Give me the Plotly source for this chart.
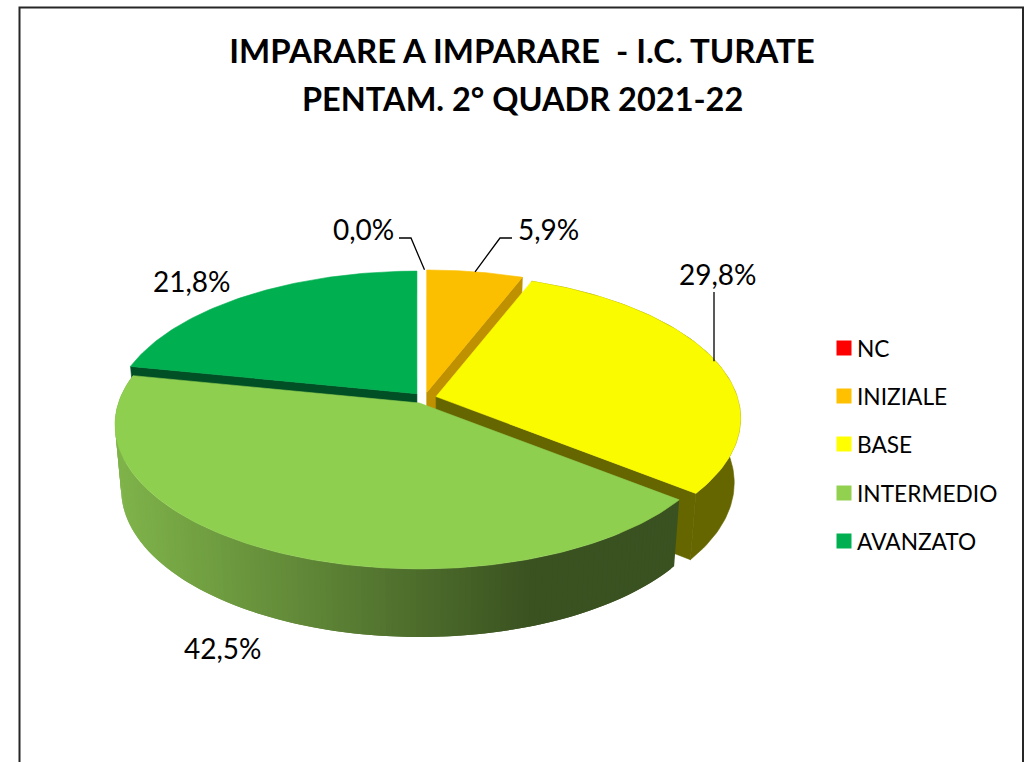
import math
import plotly.graph_objects as go

categories = ["NC", "INIZIALE", "BASE", "INTERMEDIO", "AVANZATO"]
values = [0.0, 5.9, 29.8, 42.5, 21.8]
labels = ["0,0%", "5,9%", "29,8%", "42,5%", "21,8%"]
top_colors = ["#FF0000", "#FBBF00", "#FBFB00", "#8FCF50", "#00AF50"]
legend_colors = ["#FF0000", "#FFC000", "#FFFF00", "#92D050", "#00B050"]
wall_colors = ["#990000", "#BF9000", "#666600", "#3B5320", "#004F25"]
title_line1 = "IMPARARE A IMPARARE  - I.C. TURATE"
title_line2 = "PENTAM. 2° QUADR 2021-22"

FONT = "Lato"
W, H = 1026, 762
CX, CY = 424.5, 398.0      # unexploded centre of the pie's top face
RX, RY = 301.0, 141.0      # disc radii on screen
PERSP = 0.15               # perspective strength
EXPLODE = 12.0             # slice explosion along its mid angle
SHRINK = 0.98

total = sum(values)
starts, t = [], 0.0
for v in values:
    starts.append(t)
    t += v
ang = lambda pct: pct / total * 2 * math.pi


def apex(i):
    mid = ang(starts[i] + values[i] / 2)
    return CX + EXPLODE * math.sin(mid), CY - EXPLODE * 0.46 * math.cos(mid)


def rim(i, a):
    ax, ay = apex(i)
    f = 1 / (1 + PERSP * math.cos(a))
    return ax + RX * math.sin(a) * f, ay - RY * math.cos(a) * f


def low(p):
    return CX + SHRINK * (p[0] - CX), p[1] + 64 + 0.024 * (p[1] - CY)


def arc(i, a0, a1, n=90):
    return [rim(i, a0 + (a1 - a0) * k / n) for k in range(n + 1)]


def poly(fig, pts, color, lw=0.6):
    fig.add_trace(go.Scatter(
        x=[p[0] for p in pts] + [pts[0][0]], y=[p[1] for p in pts] + [pts[0][1]],
        mode="lines", fill="toself", fillcolor=color,
        line=dict(color=color, width=lw), hoverinfo="skip", showlegend=False))


def grad(x):
    u = min(max((x - 118) / (535 - 118), 0), 1)
    c0, c1 = (127, 179, 74), (58, 81, 32)
    return "rgb(%d,%d,%d)" % tuple(round(p + (q - p) * u) for p, q in zip(c0, c1))


fig = go.Figure()


def radial_wall(i, a, color):
    ap = apex(i)
    r = rim(i, a)
    poly(fig, [ap, r, low(r), low(ap)], color)


# back to front: AVANZATO, INIZIALE, BASE, INTERMEDIO
ia, io, iy, ig = 4, 1, 2, 3
radial_wall(ia, ang(starts[ia]), wall_colors[ia])
poly(fig, [apex(ia)] + arc(ia, ang(starts[ia]), ang(total)), top_colors[ia])

radial_wall(io, ang(starts[io] + values[io]), wall_colors[io])
poly(fig, [apex(io)] + arc(io, ang(starts[io]), ang(starts[io] + values[io])), top_colors[io])

y0, y1 = ang(starts[iy]), ang(starts[iy] + values[iy])
top = arc(iy, y0, y1)
poly(fig, top + [low(p) for p in reversed(top)], wall_colors[iy])
radial_wall(iy, y1, wall_colors[iy])
poly(fig, [apex(iy)] + top, top_colors[iy])

g0, g1 = ang(starts[ig]), ang(starts[ig] + values[ig])
steps = 153
for k in range(steps):
    a = g0 + (g1 - g0) * k / steps
    b = g0 + (g1 - g0) * min(k + 2, steps) / steps   # overlaps the next strip, so no seams
    p, q = rim(ig, a), rim(ig, g0 + (g1 - g0) * (k + 1) / steps)
    mid_pts = arc(ig, a, b, 4)
    poly(fig, mid_pts + [low(m) for m in reversed(mid_pts)], grad((p[0] + q[0]) / 2), lw=0)
poly(fig, [apex(ig)] + arc(ig, g0, g1, 180), top_colors[ig])

# leader lines
z_end = rim(0, ang(starts[0]))
o_end = rim(1, ang(starts[1] + values[1] / 2))
b_end = rim(2, ang(starts[2] + values[2] / 2))
for xs, ys in [([399, 411, z_end[0]], [238, 238, z_end[1]]),
               ([512, 500, o_end[0]], [238, 238, o_end[1]]),
               ([714, 714], [292, b_end[1]])]:
    fig.add_trace(go.Scatter(x=xs, y=ys, mode="lines", line=dict(color="#000000", width=1.3),
                             hoverinfo="skip", showlegend=False))

annotations = [dict(x=522, y=98, xref="x", yref="y", text=title_line2, showarrow=False,
                    xanchor="center", yanchor="middle",
                    font=dict(family=FONT, size=32.5, color="#000000", weight="bold"))]
label_pos = [(363.5, 229), (548.5, 229), (718, 274), (222.5, 648), (192, 281)]
for txt, (lx, ly) in zip(labels, label_pos):
    annotations.append(dict(x=lx, y=ly, xref="x", yref="y", text=txt, showarrow=False,
                            xanchor="center", yanchor="middle",
                            font=dict(family=FONT, size=28, color="#000000")))

# legend
leg_y = [348, 396, 444, 493, 541]
for name, col, ly in zip(categories, legend_colors, leg_y):
    fig.add_trace(go.Scatter(x=[844], y=[ly], mode="markers", name=name,
                             marker=dict(symbol="square", size=15, color=col, line=dict(width=0)),
                             showlegend=False))
    annotations.append(dict(x=855, y=ly, xref="x", yref="y", text=name, showarrow=False,
                            xanchor="left", yanchor="middle",
                            font=dict(family=FONT, size=22.7, color="#000000")))

fig.update_layout(
    width=W, height=H, margin=dict(l=0, r=0, t=0, b=0),
    paper_bgcolor="#FFFFFF", plot_bgcolor="#FFFFFF",
    title=dict(text=title_line1, x=522 / W, xanchor="center", y=1 - 40 / H, yanchor="top",
               font=dict(family=FONT, size=33, color="#000000", weight="bold")),
    xaxis=dict(range=[0, W], visible=False, fixedrange=True),
    yaxis=dict(range=[H, 0], visible=False, fixedrange=True),
    annotations=annotations,
    shapes=[dict(type="rect", xref="x", yref="y", x0=19.5, y0=7.5, x1=1023, y1=800,
                 line=dict(color="#262626", width=2), layer="above")],
)
fig.write_html("out.html", default_width=f"{W}px", default_height=f"{H}px",
               config={"displayModeBar": False},
               post_script="document.body.style.margin='0';document.documentElement.style.overflow='hidden';")
